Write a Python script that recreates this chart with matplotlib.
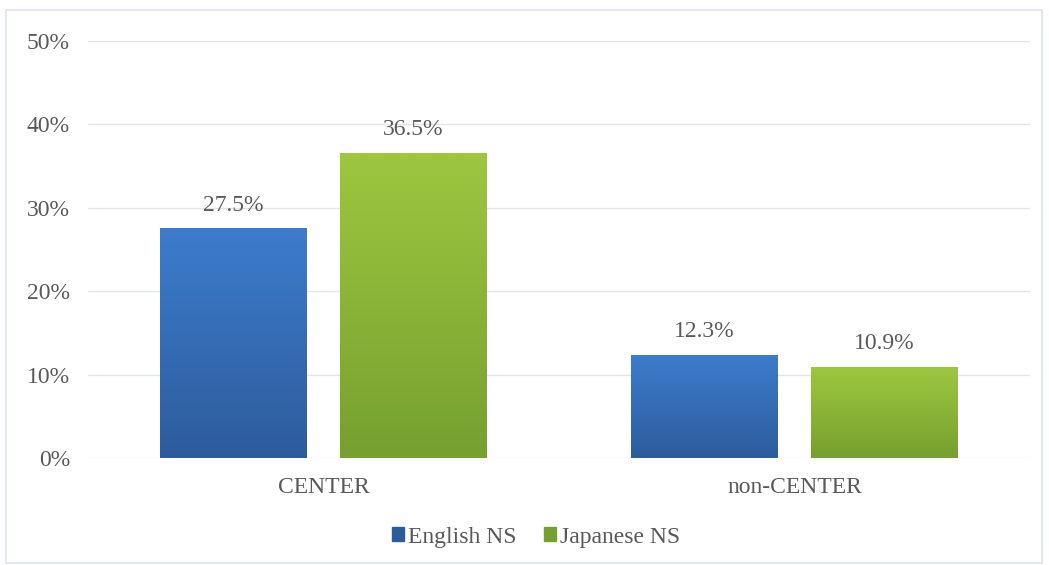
import numpy as np
import matplotlib
matplotlib.use("Agg")
import matplotlib.pyplot as plt
from matplotlib.colors import LinearSegmentedColormap
from matplotlib.patches import Rectangle

categories = ["CENTER", "non-CENTER"]
series_names = ["English NS", "Japanese NS"]
english_ns = [27.5, 12.3]
japanese_ns = [36.5, 10.9]
y_ticks = [0, 10, 20, 30, 40, 50]

plt.rcParams['font.family'] = ['Liberation Serif', 'DejaVu Serif']
text_color = '#595959'
fs = 17

# (top colour, bottom colour) of each series' gradient
grads = [("#3d7ccc", "#2d5c9c"), ("#9dc73f", "#76a02f")]

fig = plt.figure(figsize=(10.49, 5.65), dpi=100)
ax = fig.add_axes([88 / 1049, 1 - 458 / 565, 942 / 1049, (458 - 41) / 565])

x = np.arange(len(categories))
width = 0.312
offset = 0.191

for i, (vals, name) in enumerate([(english_ns, series_names[0]),
                                  (japanese_ns, series_names[1])]):
    pos = x - offset if i == 0 else x + offset
    bars = ax.bar(pos, vals, width, color=grads[i][0], label=name,
                  zorder=2)
    cmap = LinearSegmentedColormap.from_list("g%d" % i,
                                             [grads[i][1], grads[i][0]])
    grad = np.linspace(0, 1, 256).reshape(-1, 1)
    for b, v in zip(bars, vals):
        b.set_alpha(0)
        x0, w, h = b.get_x(), b.get_width(), b.get_height()
        ax.imshow(grad, cmap=cmap, origin='lower', aspect='auto',
                  extent=(x0, x0 + w, 0, h), zorder=2)
        ax.annotate("%.1f%%" % v, (x0 + w / 2, v), xytext=(0, 17),
                    textcoords='offset points', ha='center', va='center',
                    fontsize=fs, color=text_color)

ax.set_xlim(-0.5, 1.5)
ax.set_ylim(0, 50)
ax.set_yticks(y_ticks)
ax.set_yticklabels(["%d%%" % t for t in y_ticks])
ax.set_xticks(x)
ax.set_xticklabels(categories)
ax.tick_params(axis='both', length=0, labelsize=fs, labelcolor=text_color)
ax.tick_params(axis='y', pad=13)
ax.tick_params(axis='x', pad=14)
ax.yaxis.grid(True, color='#dde6ef', linewidth=1)
ax.set_axisbelow(True)
for s in ax.spines.values():
    s.set_visible(False)

handles = [Rectangle((0, 0), 1, 1, color=grads[0][1]),
           Rectangle((0, 0), 1, 1, color=grads[1][1])]
fig.legend(handles, series_names, loc='center', bbox_to_anchor=(536 / 1049, 1 - 537 / 565),
           ncol=2, frameon=False, fontsize=fs, handlelength=0.5, handleheight=0.5,
           handletextpad=0.15, columnspacing=1.2, labelcolor=text_color)

fig.patches.append(Rectangle((6 / 1049, 2 / 565), 1036 / 1049, 553 / 565,
                             transform=fig.transFigure, fill=False,
                             edgecolor='#dbe4ef', linewidth=1.2))

fig.savefig("out.png", dpi=100)
